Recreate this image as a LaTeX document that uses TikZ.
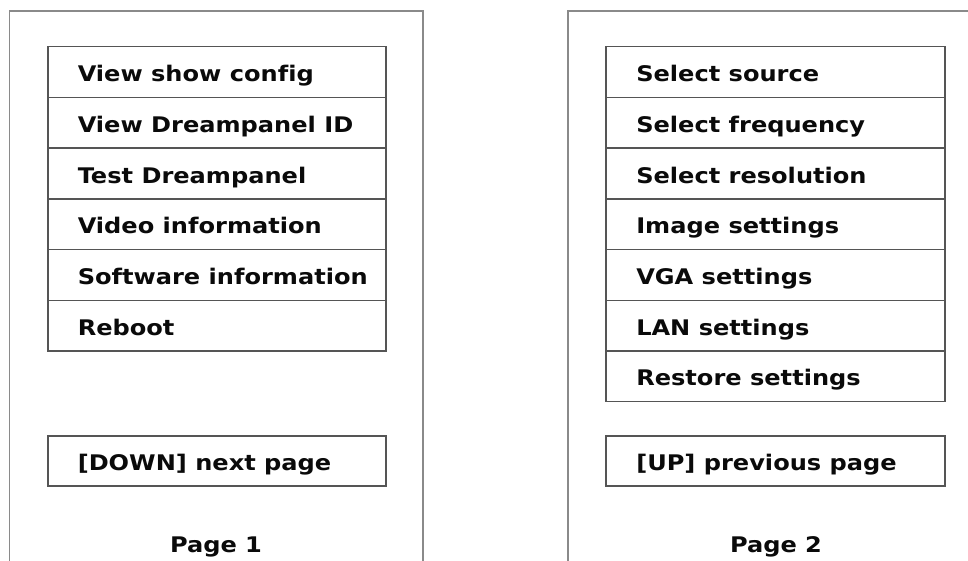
\documentclass[tikz,border=0pt]{standalone}
\usepackage{fontspec}
\newfontfamily\vfont[FakeStretch=1.12,Ligatures=NoCommon]{DejaVu Sans}
\definecolor{frameg}{HTML}{8A8A8A}
\definecolor{boxg}{HTML}{555555}
\definecolor{txt}{HTML}{0A0A0A}
\newcommand{\li}[1]{\makebox[278pt][l]{#1}}
\begin{document}
\begin{tikzpicture}[x=1pt,y=-1pt,
  item/.style={draw=boxg,line width=1.5pt,anchor=north west,
    minimum width=338pt,minimum height=50.7pt,inner ysep=0pt,inner xsep=30pt,
    text height=22pt,text depth=2.7pt,
    font=\vfont\bfseries\fontsize{21.5}{24}\selectfont,text=txt},
  pagelbl/.style={anchor=base,font=\vfont\bfseries\fontsize{21.5}{24}\selectfont,text=txt},
  frame/.style={draw=frameg,line width=1.6pt}]
\useasboundingbox (0,0) rectangle (968,561);
% frames
\draw[frame] (9.5,562) -- (9.5,11) -- (423,11) -- (423,562);
\draw[frame] (568,562) -- (568,11) -- (970,11);
% page 1 list
\node[item] (a1) at (47,46) {\li{View show config}};
\node[item] (a2) at (47,96.7) {\li{View Dreampanel ID}};
\node[item] (a3) at (47,147.4) {\li{Test Dreampanel}};
\node[item] (a4) at (47,198.1) {\li{Video information}};
\node[item] (a5) at (47,248.8) {\li{Software information}};
\node[item] (a6) at (47,299.5) {\li{Reboot}};
\node[item,minimum height=50pt] (down) at (47,435) {\li{[DOWN] next page}};
\node[pagelbl] (p1) at (216,552) {Page 1};
% page 2 list
\node[item,minimum width=339pt] (b1) at (605,46) {\li{Select source}};
\node[item,minimum width=339pt] (b2) at (605,96.7) {\li{Select frequency}};
\node[item,minimum width=339pt] (b3) at (605,147.4) {\li{Select resolution}};
\node[item,minimum width=339pt] (b4) at (605,198.1) {\li{Image settings}};
\node[item,minimum width=339pt] (b5) at (605,248.8) {\li{VGA settings}};
\node[item,minimum width=339pt] (b6) at (605,299.5) {\li{LAN settings}};
\node[item,minimum width=339pt] (b7) at (605,350.2) {\li{Restore settings}};
\node[item,minimum width=339pt,minimum height=50pt] (up) at (605,435) {\li{[UP] previous page}};
\node[pagelbl] (p2) at (776,552) {Page 2};
\end{tikzpicture}
\end{document}
